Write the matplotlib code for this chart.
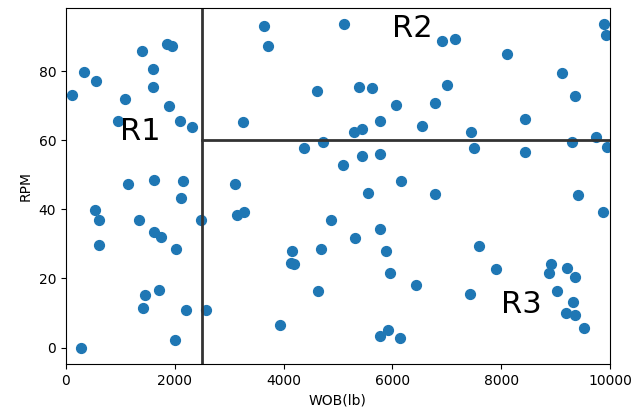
import numpy as np
import matplotlib
matplotlib.use('Agg')
import matplotlib.pyplot as plt

# weight on bit (lb) and rotary speed (rpm) samples
wob = [105, 331, 545, 1403, 1851, 1955, 1593, 1593, 1085, 1887,
       956, 2101, 2310, 3254, 1140, 1618, 2157, 2120, 3107, 3646,
       3713, 5116, 6906, 4608, 5380, 5631, 7010, 6066, 6789, 5772,
       6544, 5294, 5447, 4730, 4369, 5447, 5772, 5086, 6164, 5557,
       6789, 7145, 8107, 9895, 9926, 9124, 9357, 8438, 7445, 9743,
       9301, 7506, 8438, 9938, 9418, 539, 612, 1342, 1624, 1740,
       612, 2028, 2488, 3137, 3266, 1446, 1710, 1421, 2206, 2568,
       270, 2004, 4877, 5772, 5318, 4154, 4694, 5882, 4130, 4197,
       5956, 6428, 4632, 3928, 5925, 5772, 6134, 9865, 7597, 7898,
       8915, 8873, 9203, 9357, 7421, 9032, 9326, 9191, 9363, 9528]
rpm = [73.3, 79.9, 77.1, 86.0, 87.9, 87.4, 80.8, 75.6, 71.9, 69.9,
       65.7, 65.7, 64.0, 65.2, 47.3, 48.6, 48.2, 43.4, 47.3, 93.1,
       87.4, 93.7, 88.8, 74.2, 75.6, 75.2, 76.0, 70.3, 70.9, 65.6,
       64.3, 62.4, 63.4, 59.6, 57.7, 55.4, 56.2, 52.9, 48.2, 44.9,
       44.4, 89.3, 85.1, 93.6, 90.4, 79.4, 72.8, 66.2, 62.3, 61.1,
       59.5, 57.7, 56.7, 58.2, 44.1, 39.7, 36.9, 36.9, 33.5, 32.1,
       29.8, 28.4, 36.9, 38.4, 39.2, 15.2, 16.6, 11.4, 10.8, 10.8,
       -0.1, 2.2, 36.8, 34.4, 31.6, 27.9, 28.4, 27.9, 24.6, 24.1,
       21.6, 18.0, 16.4, 6.6, 5.2, 3.3, 2.8, 39.2, 29.4, 22.7,
       24.2, 21.6, 23.1, 20.4, 15.5, 16.5, 13.1, 9.9, 9.4, 5.6]

# split points of the regions
wob_split = 2500
rpm_split = 60
regions = [('R1', 1000, 60), ('R2', 6000, 90), ('R3', 8000, 10)]

fig = plt.figure(figsize=(6.32, 4.17), dpi=100)
ax = fig.add_axes([0.1044, 0.127, 0.8606, 0.854])
ax.scatter(wob, rpm, s=50)
ax.set_xlim(0, 10000)

ax.axvline(wob_split, color='#333333', lw=2)
ax.axhline(rpm_split, xmin=wob_split / 10000, xmax=1, color='#333333', lw=2)

for name, x, y in regions:
    ax.text(x, y, name, fontsize=22)

ax.set_xlabel('WOB(lb)')
ax.set_ylabel('RPM')

fig.savefig('out.png', dpi=100)
